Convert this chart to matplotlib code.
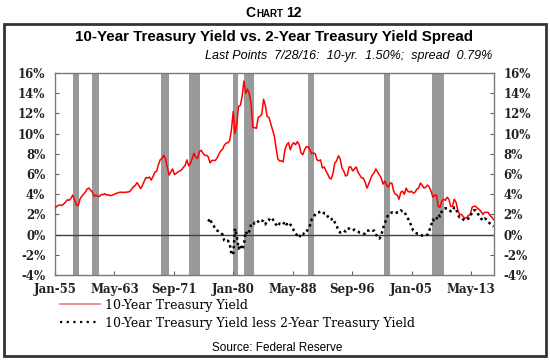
import pandas as pd
import matplotlib
matplotlib.use('Agg')
import matplotlib.pyplot as plt
from matplotlib.patches import Rectangle
from matplotlib.lines import Line2D

# 10-year treasury yield (%), quarterly from 1955Q1 to 2016Q3
ten_year = [
    2.62, 2.80, 2.90, 2.92,   # 1955
    2.90, 3.05, 3.25, 3.45,
    3.40, 3.60, 3.92, 3.45,
    2.95, 2.85, 3.50, 3.80,
    4.00, 4.20, 4.50, 4.62,
    4.40, 4.20, 3.80, 3.90,   # 1960
    3.80, 3.78, 3.98, 3.95,
    4.05, 3.90, 3.95, 3.85,
    3.90, 3.98, 4.05, 4.12,
    4.18, 4.20, 4.18, 4.18,
    4.20, 4.22, 4.27, 4.50,   # 1965
    4.75, 4.85, 5.15, 4.90,
    4.55, 4.85, 5.25, 5.65,
    5.60, 5.70, 5.40, 5.75,
    6.20, 6.25, 6.90, 7.40,
    7.55, 7.85, 7.50, 6.70,   # 1970
    5.90, 6.20, 6.50, 5.95,
    6.05, 6.20, 6.30, 6.40,
    6.65, 6.85, 7.40, 6.80,
    7.05, 7.55, 8.05, 7.65,
    7.55, 8.20, 8.35, 8.05,   # 1975
    7.85, 7.85, 7.70, 7.10,
    7.35, 7.35, 7.35, 7.60,
    8.00, 8.30, 8.45, 8.85,
    9.05, 9.10, 9.30, 10.40,
    12.20, 10.00, 11.00, 12.70,  # 1980
    12.80, 13.70, 15.20, 14.00,
    14.40, 13.90, 13.00, 10.60,
    10.60, 10.50, 11.60, 11.70,
    11.90, 13.40, 12.80, 11.70,
    11.60, 11.00, 10.40, 9.80,   # 1985
    8.60, 7.50, 7.30, 7.30,
    7.20, 8.40, 8.90, 9.10,
    8.40, 8.90, 9.10, 8.90,
    9.20, 8.90, 8.10, 7.90,
    8.40, 8.70, 8.70, 8.40,   # 1990
    8.00, 8.10, 8.00, 7.40,
    7.30, 7.40, 6.60, 6.70,
    6.30, 6.00, 5.60, 5.50,
    6.10, 7.10, 7.30, 7.80,
    7.50, 6.60, 6.30, 5.80,   # 1995
    5.90, 6.70, 6.70, 6.30,
    6.50, 6.70, 6.20, 5.90,
    5.60, 5.60, 5.20, 4.60,
    5.00, 5.50, 5.90, 6.10,
    6.50, 6.20, 5.90, 5.60,   # 2000
    5.00, 5.30, 4.90, 4.70,
    5.10, 5.10, 4.30, 4.00,
    3.90, 3.50, 4.20, 4.30,
    4.00, 4.60, 4.30, 4.20,
    4.30, 4.10, 4.20, 4.50,   # 2005
    4.60, 5.10, 4.90, 4.60,
    4.70, 4.90, 4.70, 4.30,
    3.70, 3.90, 3.90, 2.80,
    2.70, 3.30, 3.50, 3.40,
    3.70, 3.50, 2.80, 2.80,   # 2010
    3.50, 3.20, 2.40, 2.00,
    2.00, 1.80, 1.60, 1.70,
    1.90, 2.00, 2.70, 2.80,
    2.80, 2.60, 2.50, 2.30,
    2.00, 2.20, 2.20, 2.20,   # 2015
    1.90, 1.75, 1.50,
]

# 10-year less 2-year yield (%), quarterly from 1976Q3 to 2016Q3
spread = [
    1.30, 1.60,               # 1976
    1.10, 0.90, 0.50, 0.40,
    0.30, 0.20, 0.00, -0.60,
    -0.70, -0.60, -0.90, -1.90,
    -2.00, 0.60, -0.20, -1.40,   # 1980
    -1.00, -1.50, -1.00, 0.30,
    0.00, 0.30, 1.00, 0.90,
    1.20, 1.10, 1.30, 1.50,
    1.40, 1.30, 1.00, 1.40,
    1.50, 1.40, 1.60, 1.20,   # 1985
    1.00, 0.80, 1.10, 1.00,
    1.00, 1.30, 1.00, 1.20,
    1.00, 0.80, 0.40, 0.10,
    -0.10, -0.30, 0.10, 0.00,
    0.20, 0.20, 0.60, 0.90,   # 1990
    1.50, 1.70, 2.00, 2.20,
    2.20, 2.30, 2.30, 2.10,
    2.10, 1.80, 1.50, 1.50,
    1.60, 1.20, 0.90, 0.40,
    0.20, 0.30, 0.40, 0.30,   # 1995
    0.60, 0.60, 0.50, 0.40,
    0.50, 0.40, 0.30, 0.20,
    0.20, 0.10, 0.10, 0.40,
    0.40, 0.50, 0.40, 0.40,
    0.10, -0.30, -0.40, -0.10,   # 2000
    0.60, 1.10, 1.60, 2.00,
    2.10, 2.20, 2.20, 2.10,
    2.20, 2.20, 2.40, 2.30,
    2.30, 1.90, 1.60, 1.30,
    0.80, 0.40, 0.30, 0.10,   # 2005
    0.10, 0.00, -0.10, -0.10,
    -0.10, 0.00, 0.40, 0.90,
    1.50, 1.30, 1.50, 2.00,
    1.80, 2.30, 2.50, 2.60,
    2.60, 2.50, 2.30, 2.30,   # 2010
    2.70, 2.60, 2.00, 1.70,
    1.70, 1.50, 1.40, 1.50,
    1.60, 1.70, 2.30, 2.40,
    2.40, 2.10, 1.90, 1.60,
    1.40, 1.60, 1.50, 1.30,   # 2015
    1.10, 0.95, 0.80,
]

recession_start = ['1957-08-01', '1960-04-01', '1969-12-01', '1973-11-01', '1980-01-01',
                   '1981-07-01', '1990-07-01', '2001-03-01', '2007-12-01']
recession_end = ['1958-04-30', '1961-02-28', '1970-11-30', '1975-03-31', '1980-07-31',
                 '1982-11-30', '1991-03-31', '2001-11-30', '2009-06-30']

W, H = 550, 360


def fx(x):
    return x / W


def fy(y):
    return 1 - y / H


ten_dates = pd.date_range('1955-01-01', periods=len(ten_year), freq='QS')
spread_dates = pd.date_range('1976-07-01', periods=len(spread), freq='QS')

fig = plt.figure(figsize=(W / 100, H / 100), dpi=100)
ax = fig.add_axes([fx(55), fy(275), fx(494) - fx(55), fy(73) - fy(275)])

for s, e in zip(recession_start, recession_end):
    ax.axvspan(pd.Timestamp(s) - pd.Timedelta(days=20), pd.Timestamp(e) + pd.Timedelta(days=20),
               color='#999999', lw=0, zorder=1)

ax.axhline(0, color='#404040', lw=1, zorder=2)
ax.plot(ten_dates, ten_year, color='red', lw=1.1, zorder=3)
ax.plot(spread_dates, spread, color='black', lw=1.8, linestyle=(0, (1, 1.3)), zorder=4)

ax.set_xlim(pd.Timestamp('1955-01-01'), pd.Timestamp('2016-07-28'))
ax.set_ylim(-4, 16)
ticks = pd.date_range('1955-01-01', periods=8, freq='100MS')
ax.set_xticks(ticks)
ax.set_xticklabels([t.strftime('%b-%y') for t in ticks])
ax.set_yticks(range(-4, 17, 2))
ax.set_yticklabels([f'{v}%' for v in range(-4, 17, 2)])
ax.tick_params(direction='in', length=3, color='#606060', labelsize=8.5,
               left=True, right=True, labelleft=True, labelright=True,
               labelcolor='#222222')
ax.tick_params(axis='x', pad=6)
ax.tick_params(axis='y', pad=7)
for lab in ax.get_xticklabels() + ax.get_yticklabels():
    lab.set_family('DejaVu Serif')
    lab.set_fontweight('bold')
for sp in ax.spines.values():
    sp.set_color('#7a7a7a')
    sp.set_linewidth(1)

# text above the plot
fig.text(fx(245), fy(13), 'C', fontsize=10, fontweight='bold', family='Liberation Sans', va='center')
fig.text(fx(256), fy(14), 'HART', fontsize=7, fontweight='bold', family='Liberation Sans', va='center')
fig.text(fx(286), fy(13), '12', fontsize=10, fontweight='bold', family='Liberation Sans', va='center')
fig.text(fx(274), fy(37), '10-Year Treasury Yield vs. 2-Year Treasury Yield Spread',
         fontsize=10.9, fontweight='bold', family='Liberation Sans', ha='center', va='center')
fig.text(fx(492), fy(56), 'Last Points  7/28/16:  10-yr.  1.50%;  spread  0.79%',
         fontsize=9, style='italic', family='Liberation Sans', ha='right', va='center')
fig.text(fx(277), fy(348), 'Source: Federal Reserve', fontsize=8.5, family='Liberation Sans',
         ha='center', va='center')

handles = [Line2D([], [], color='#f07878', lw=1.2),
           Line2D([], [], color='black', lw=1.6, linestyle=(0, (1, 2)))]
labels = ['10-Year Treasury Yield', '10-Year Treasury Yield less 2-Year Treasury Yield']
fig.legend(handles, labels, loc='upper left', bbox_to_anchor=(fx(60), fy(298.5)), frameon=False,
           prop={'family': 'DejaVu Serif', 'size': 9}, handlelength=3.2, handletextpad=0.4,
           labelspacing=0.42, borderaxespad=0, borderpad=0, handleheight=0.7)

fig.add_artist(Rectangle((fx(3.5), fy(356)), fx(545.5) - fx(3.5), fy(24) - fy(356),
                         transform=fig.transFigure, fill=False, ec='#333333', lw=2))

fig.savefig('out.png', dpi=100)
